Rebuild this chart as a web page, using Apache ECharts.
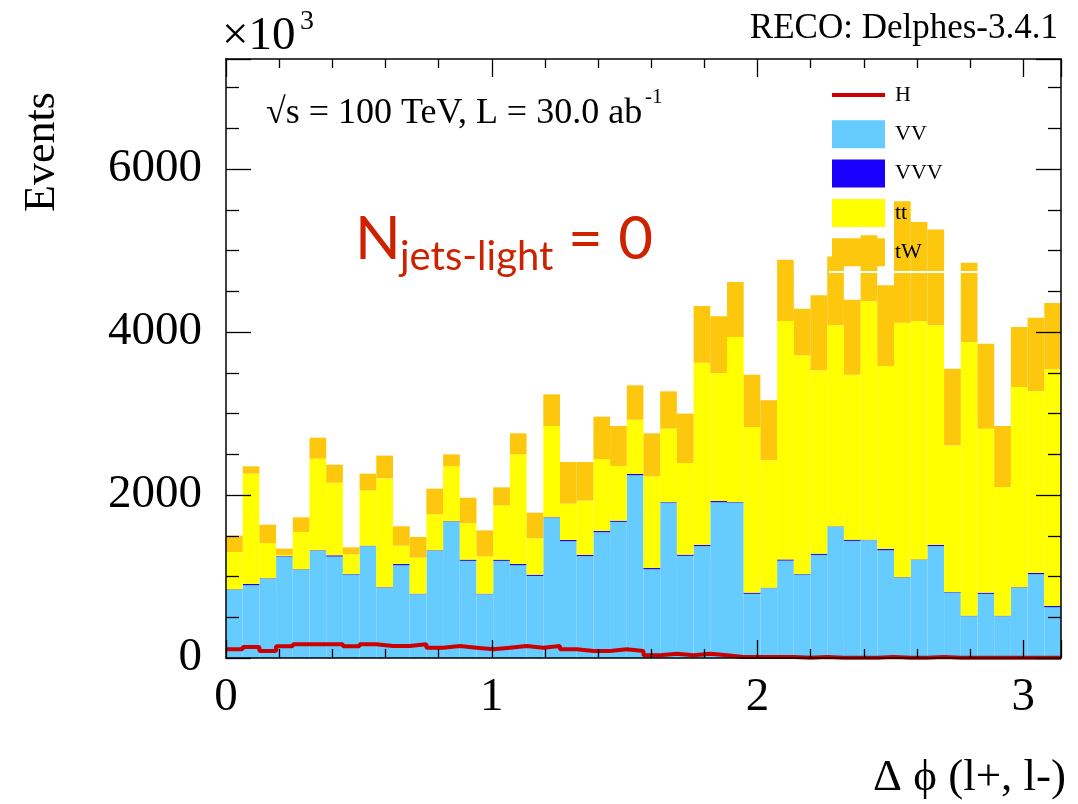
<!DOCTYPE html>
<html><head><meta charset="utf-8">
<script src="https://cdn.jsdelivr.net/npm/echarts@6/dist/echarts.min.js"></script>
<style>html,body{margin:0;padding:0;background:#fff}#c{width:1078px;height:804px}</style>
</head><body><div id="c"></div>
<script>
// ---- data ----
const X_MIN = 0;
const X_MAX = Math.PI;
const Y_MAX = 7350;
const N_BINS = 50;
const categories = Array.from({length: N_BINS}, (_, i) => 'bin' + i);
const xTickValues = [0, 1, 2, 3];
const yTickValues = [0, 2000, 4000, 6000];

const H = [106,135,86,143,168,168,168,143,168,147,147,168,127,147,127,106,127,147,127,147,
           106,86,86,106,86,33,53,33,53,33,12,12,12,12,2,12,2,2,2,12,
           2,2,12,2,2,2,2,2,2,2];
const VV = [836,893,972,1246,1082,1315,1245,1025,1372,861,1138,783,1315,1671,1192,783,1192,1138,1007,1720,
            1433,1249,1543,1670,2243,1089,1907,1253,1372,1911,1907,787,857,1195,1024,1265,1609,1437,1446,1322,
            984,1204,1372,804,513,787,513,861,1028,623];
const VVV = [6,15,6,6,6,6,15,6,6,6,15,6,6,6,15,6,15,15,15,6,
             15,15,15,15,15,15,6,15,15,15,6,15,6,15,6,15,6,15,6,15,
             6,6,15,6,6,15,6,6,15,15];
const tt = [458,1354,433,10,458,1125,891,241,679,1337,225,442,442,675,445,458,666,1346,446,1121,
            446,667,884,671,666,1125,901,1125,2237,1567,2026,2032,1562,2925,2684,2250,2467,2024,2924,2246,
            3125,2925,2695,1799,3359,2012,1579,2458,2229,2904];
const tW = [201,90,225,80,180,257,221,86,205,279,238,254,315,147,315,319,221,258,315,388,
            511,474,519,491,422,528,458,605,695,699,675,642,737,753,572,920,846,921,810,990,
            1488,1214,1176,941,973,1043,749,736,904,814];

// ---- chart ----
const SERIF = "'Liberation Serif', 'Times New Roman', serif";
const binW = (X_MAX - X_MIN) / N_BINS;
const hLine = H.map((v, i) => [X_MIN + i * binW, v]);
hLine.push([X_MAX, H[H.length - 1]]);

const tickStyle = {color: '#000', width: 1.3};
function xVal(pos, showLabel) {
  return {
    type: 'value', min: X_MIN, max: X_MAX, interval: 1, position: pos, z: 10,
    axisLine: {show: true, onZero: false, lineStyle: {color: '#000', width: 1.5}},
    axisTick: {show: true, inside: true, length: 18, lineStyle: tickStyle},
    minorTick: {show: true, splitNumber: 5, length: 9, lineStyle: tickStyle},
    splitLine: {show: false}, minorSplitLine: {show: false},
    axisLabel: {show: showLabel, fontFamily: SERIF, fontSize: 47, color: '#000', margin: 16,
      showMaxLabel: false,
      formatter: v => (xTickValues.indexOf(v) >= 0 ? String(v) : '')}
  };
}
function yVal(pos, showLabel) {
  return {
    type: 'value', min: 0, max: Y_MAX, interval: 2000, position: pos, z: 10,
    axisLine: {show: true, onZero: false, lineStyle: {color: '#000', width: 1.5}},
    axisTick: {show: true, inside: true, length: 25, lineStyle: tickStyle},
    minorTick: {show: true, splitNumber: 4, length: 13, lineStyle: tickStyle},
    splitLine: {show: false}, minorSplitLine: {show: false},
    axisLabel: {show: showLabel, fontFamily: SERIF, fontSize: 47, color: '#000', margin: 24,
      showMaxLabel: false,
      formatter: v => (yTickValues.indexOf(v) >= 0 ? String(v) : '')}
  };
}
function barSeries(name, data, color) {
  return {
    name, type: 'bar', data, stack: 'bkg', xAxisIndex: 0, yAxisIndex: 0,
    barWidth: '100%', barCategoryGap: '0%', itemStyle: {color, borderWidth: 0},
    emphasis: {disabled: true}, animation: false
  };
}

const chart = echarts.init(document.getElementById('c'), null, {renderer: 'canvas'});
chart.setOption({
  animation: false,
  backgroundColor: '#fff',
  grid: {left: 226, right: 17, top: 59, bottom: 146, outerBoundsMode: 'none', containLabel: false},
  xAxis: [
    {type: 'category', data: categories, show: false, position: 'bottom', boundaryGap: true,
     axisLine: {onZero: false}},
    xVal('bottom', true),
    xVal('top', false)
  ],
  yAxis: [yVal('left', true), yVal('right', false)],
  legend: {
    orient: 'vertical', left: 832, top: 81, padding: 0,
    itemWidth: 53, itemHeight: 28, itemGap: 11.3,
    selectedMode: false,
    textStyle: {fontFamily: SERIF, fontSize: 22, color: '#000', padding: [0, 0, 0, 5]},
    data: [
      {name: 'H', icon: 'path://M0,0 L0.01,0 M53,28 L52.99,28 M0,12 L53,12 L53,16 L0,16 Z'},
      {name: 'VV', icon: 'rect'},
      {name: 'VVV', icon: 'rect'},
      {name: 'tt', icon: 'rect'},
      {name: 'tW', icon: 'rect'}
    ]
  },
  series: [
    barSeries('VV', VV, '#66ccff'),
    barSeries('VVV', VVV, '#1a00ff'),
    barSeries('tt', tt, '#ffff00'),
    barSeries('tW', tW, '#fdc70e'),
    {
      name: 'H', type: 'line', xAxisIndex: 1, yAxisIndex: 0, data: hLine, step: 'end',
      symbol: 'none', showSymbol: false, clip: false, z: 5,
      lineStyle: {color: '#cc0000', width: 4}, itemStyle: {color: '#cc0000'},
      emphasis: {disabled: true}
    }
  ],
  graphic: [
    {type: 'line', z: 50, shape: {x1: 829, y1: 272, x2: 1060, y2: 272}, style: {stroke: '#fff', lineWidth: 2}},
    {type: 'text', z: 50, x: 222, y: 37, style: {text: '×10', font: '47px ' + SERIF, fill: '#000', textAlign: 'left', textVerticalAlign: 'middle'}},
    {type: 'text', z: 50, x: 300, y: 22, style: {text: '3', font: '28px ' + SERIF, fill: '#000', textAlign: 'left', textVerticalAlign: 'middle'}},
    {type: 'text', z: 50, x: 1058, y: 29, style: {text: 'RECO: Delphes-3.4.1', font: '35px ' + SERIF, fill: '#000', textAlign: 'right', textVerticalAlign: 'middle'}},
    {type: 'text', z: 50, x: 42, y: 212, rotation: Math.PI / 2, style: {text: 'Events', font: '44px ' + SERIF, fill: '#000', textAlign: 'left', textVerticalAlign: 'middle'}},
    {type: 'text', z: 50, x: 1066, y: 778, style: {text: 'Δ ϕ (l+, l-)', font: '45px ' + SERIF, fill: '#000', textAlign: 'right', textVerticalAlign: 'middle'}},
    {type: 'text', z: 50, x: 266, y: 114, style: {text: '√s = 100 TeV, L = 30.0 ab', font: '36px ' + SERIF, fill: '#000', textAlign: 'left', textVerticalAlign: 'middle'}},
    {type: 'text', z: 50, x: 645, y: 97, style: {text: '-1', font: '21px ' + SERIF, fill: '#000', textAlign: 'left', textVerticalAlign: 'middle'}},
    {type: 'text', z: 50, x: 355, y: 240, style: {text: 'N', font: '60px Lato, sans-serif', fill: '#cc2200', textAlign: 'left', textVerticalAlign: 'middle'}},
    {type: 'text', z: 50, x: 400, y: 257, style: {text: 'jets-light', font: '40px Lato, sans-serif', fill: '#cc2200', textAlign: 'left', textVerticalAlign: 'middle'}},
    {type: 'text', z: 50, x: 568, y: 240, style: {text: '= 0', font: '60px Lato, sans-serif', fill: '#cc2200', textAlign: 'left', textVerticalAlign: 'middle'}}
  ]
});
</script>
</body></html>
